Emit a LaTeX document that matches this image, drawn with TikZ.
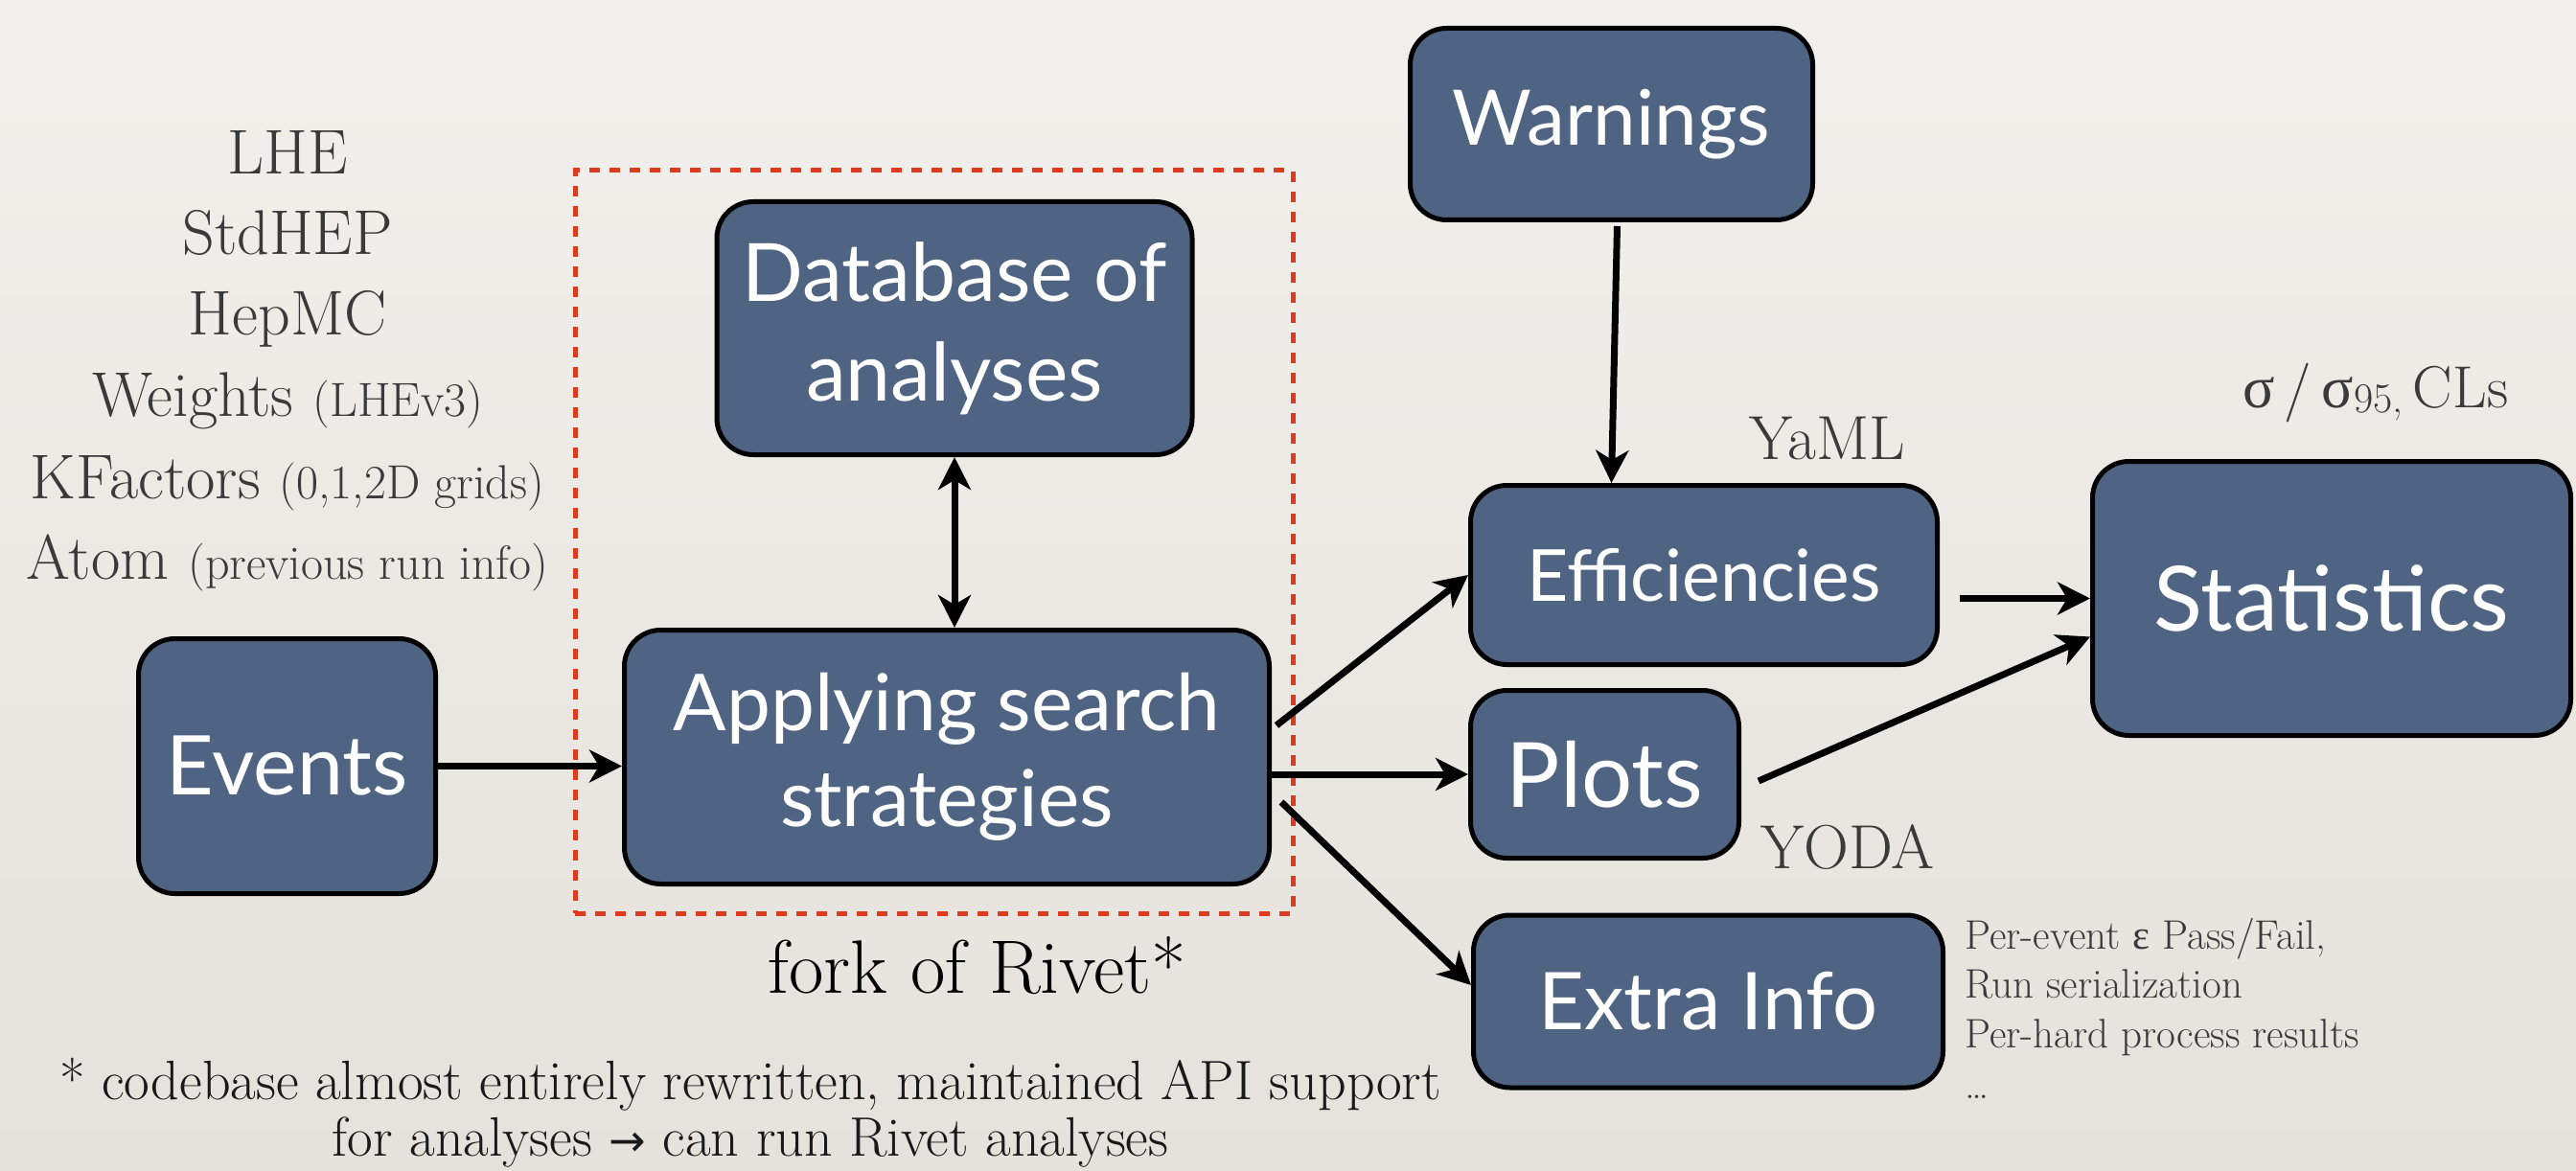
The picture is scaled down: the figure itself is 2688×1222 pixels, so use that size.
\documentclass[tikz,border=0pt]{standalone}
\usepackage{fontspec}
\newfontfamily\boxfont{Lato}
\newfontfamily\grk{Liberation Serif}
\newfontfamily\arrowfont{DejaVu Sans}
\usetikzlibrary{arrows.meta,calc}
\definecolor{boxblue}{RGB}{79,99,131}
\definecolor{ink}{RGB}{58,58,58}
\definecolor{framered}{RGB}{222,58,30}
\definecolor{bgtop}{RGB}{242,240,236}
\definecolor{bgbot}{RGB}{229,226,221}
\newcommand\setfs[2]{\fontsize{#1}{#2}\selectfont}

\begin{document}
\begin{tikzpicture}[x=1pt,y=-1pt,
  blk/.style={draw=black, line width=5pt, fill=boxblue, rounded corners=38pt,
              text=white, align=center, inner sep=0pt},
  arr/.style={line width=7pt, -{Stealth[length=34pt,width=34pt,inset=10pt]}},
  dblarr/.style={line width=7pt, {Stealth[length=34pt,width=34pt,inset=10pt]}-{Stealth[length=34pt,width=34pt,inset=10pt]}},
  lbl/.style={text=ink, inner sep=0pt, anchor=base},
  note/.style={text=ink, inner sep=0pt, anchor=base west, font=\setfs{43}{52}},
]
\useasboundingbox (0,0) rectangle (2688,1222);
\shade[top color=bgtop, bottom color=bgbot] (0,0) rectangle (2688,1222);

% group frame around the Rivet-derived part
\node[draw=framered, line width=5pt, dash pattern=on 11pt off 10pt,
      minimum width=749, minimum height=775, inner sep=0pt] (forkbox) at (974.5,565.5) {};

% processing blocks
\node[blk, minimum width=310, minimum height=266, font=\boxfont\setfs{86}{100}] (ev) at (299.5,799.5) {Events};
\node[blk, minimum width=496, minimum height=264, font=\boxfont\setfs{84}{104}] (db) at (996,342.5) {Database of\\analyses};
\node[blk, minimum width=673, minimum height=265, font=\boxfont\setfs{82}{100}] (ap) at (988,790) {Applying search\\strategies};
\node[blk, minimum width=420, minimum height=200, font=\boxfont\setfs{80}{96}] (wa) at (1681.5,129.5) {Warnings};
\node[blk, minimum width=487, minimum height=187, font=\boxfont\setfs{75}{90}] (eff) at (1778,600) {Efficiencies};
\node[blk, minimum width=280, minimum height=175, font=\boxfont\setfs{94}{110}] (pl) at (1674.5,808) {Plots};
\node[blk, minimum width=490, minimum height=180, font=\boxfont\setfs{83}{100}] (ex) at (1782.5,1045) {Extra Info};
\node[blk, minimum width=499, minimum height=286, font=\boxfont\setfs{94}{110}] (st) at (2433,624.5) {Statistics};

% connectors
\draw[arr] (ev.east) -- (ev.east -| ap.west);
\draw[dblarr] (db.south) -- (db.south |- ap.north);
\draw[arr] ([xshift=5pt,yshift=33pt]ap.east) -- (eff.west);
\draw[arr] ([yshift=-18pt]ap.east) -- (pl.west);
\draw[arr] ([xshift=10pt,yshift=-47pt]ap.east) -- ([yshift=17pt]ex.west);
\draw[arr] ([xshift=6pt,yshift=-4pt]wa.south) -- (wa.south |- eff.north);
\draw[arr] ([xshift=21pt,yshift=-24.5pt]eff.east) -- (st.west);
\draw[arr] ([xshift=18pt,yshift=-7pt]pl.east) -- ([yshift=-40pt]st.west);

% input formats
\node[lbl, font=\setfs{66}{80}] (lhe) at (300,182) {LHE};
\node[lbl, font=\setfs{66}{80}] (stdhep) at (300,266) {StdHEP};
\node[lbl, font=\setfs{66}{80}] (hepmc) at (300,350) {HepMC};
\node[lbl, font=\setfs{66}{80}] (weights) at (300,434) {Weights {\setfs{50}{60}(LHEv3)}};
\node[lbl, font=\setfs{66}{80}] (kfac) at (300,520) {KFactors {\setfs{50}{60}(0,1,2D grids)}};
\node[lbl, font=\setfs{66}{80}] (atom) at (300,604) {Atom {\setfs{50}{60}(previous run info)}};

% output formats
\node[lbl, anchor=base west, font=\setfs{65}{78}] (yaml) at (1825,479) {YaML};
\node[lbl, anchor=base west, font=\setfs{65}{78}] (yoda) at (1837,906) {YODA};
\node[lbl, anchor=base west, font=\setfs{62}{74}] (cls) at (2340,425)
  {{\grk σ}\,/\,{\grk σ}\raisebox{-5pt}{\setfs{44}{52}95,}\,CLs};

% extra information list
\node[note] (x1) at (2050,990) {Per-event {\grk ε} Pass/Fail,};
\node[note] (x2) at (2050,1041) {Run serialization};
\node[note] (x3) at (2050,1093) {Per-hard process results};
\node[note] (x4) at (2050,1146) {\ldots};

% caption of the frame and footnote
\node[lbl, text=black, font=\setfs{79}{94}] (fork) at (1020,1036) {fork of Rivet*};
\node[lbl, text=black!90, font=\setfs{58}{68}] (fn1) at (783,1147) {* codebase almost entirely rewritten, maintained API support};
\node[lbl, text=black!90, font=\setfs{58}{68}] (fn2) at (783,1206) {for analyses {\arrowfont\setfs{46}{56}→} can run Rivet analyses};
\end{tikzpicture}
\end{document}
